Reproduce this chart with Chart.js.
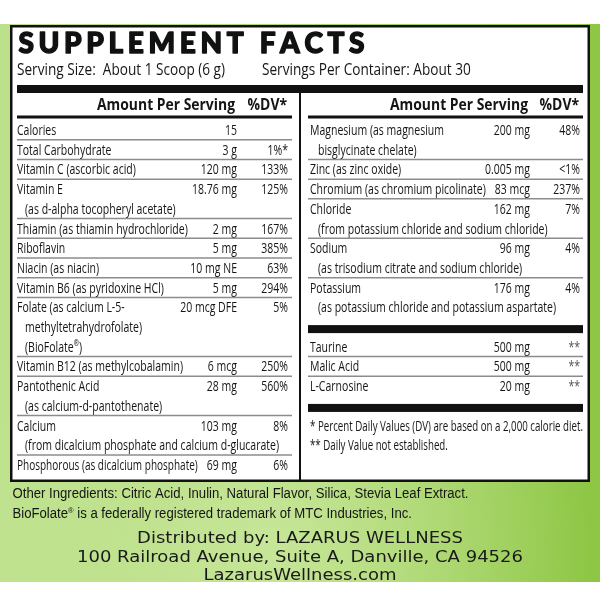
<!DOCTYPE html>
<html>
<head>
<meta charset="utf-8">
<script src="https://cdn.jsdelivr.net/npm/chart.js@4.4.0/dist/chart.umd.min.js"></script>
<style>
  html, body { margin: 0; padding: 0; background: #fff; }
  #wrap { width: 600px; height: 600px; }
</style>
</head>
<body>
<div id="wrap"><canvas id="etiqueta" width="600" height="600"></canvas></div>
<script>
// --- DATOS: COLUMNA IZQUIERDA ---
const leftNames = ["Calories", "Total Carbohydrate", "Vitamin C (ascorbic acid)", "Vitamin E",
  "Thiamin (as thiamin hydrochloride)", "Riboflavin", "Niacin (as niacin)", "Vitamin B6 (as pyridoxine HCl)",
  "Folate (as calcium L-5-", "Vitamin B12 (as methylcobalamin)", "Pantothenic Acid", "Calcium",
  "Phosphorous (as dicalcium phosphate)"];
const leftSubLines = [[], [], [], ["(as d-alpha tocopheryl acetate)"], [], [], [], [],
  ["methyltetrahydrofolate)", "(BioFolate®)"], [], ["(as calcium-d-pantothenate)"],
  ["(from dicalcium phosphate and calcium d-glucarate)"], []];
const leftAmounts = ["15", "3 g", "120 mg", "18.76 mg", "2 mg", "5 mg", "10 mg NE", "5 mg", "20 mcg DFE",
  "6 mcg", "28 mg", "103 mg", "69 mg"];
const leftDV = ["", "1%*", "133%", "125%", "167%", "385%", "63%", "294%", "5%", "250%", "560%", "8%", "6%"];

// --- DATOS: COLUMNA DERECHA ---
const rightNames = ["Magnesium (as magnesium", "Zinc (as zinc oxide)", "Chromium (as chromium picolinate)",
  "Chloride", "Sodium", "Potassium"];
const rightSubLines = [["bisglycinate chelate)"], [], [], ["(from potassium chloride and sodium chloride)"],
  ["(as trisodium citrate and sodium chloride)"], ["(as potassium chloride and potassium aspartate)"]];
const rightAmounts = ["200 mg", "0.005 mg", "83 mcg", "162 mg", "96 mg", "176 mg"];
const rightDV = ["48%", "<1%", "237%", "7%", "4%", "4%"];

const extraNames = ["Taurine", "Malic Acid", "L-Carnosine"];
const extraAmounts = ["500 mg", "500 mg", "20 mg"];
const extraDV = ["**", "**", "**"];

// --- TEXTOS ---
const titleText = "SUPPLEMENT FACTS";
const servingSize = "Serving Size:  About 1 Scoop (6 g)";
const servingsPer = "Servings Per Container: About 30";
const headerAmount = "Amount Per Serving";
const headerDV = "%DV*";
const footnotes = ["* Percent Daily Values (DV) are based on a 2,000 calorie diet.", "** Daily Value not established."];
const otherLines = ["Other Ingredients: Citric Acid, Inulin, Natural Flavor, Silica, Stevia Leaf Extract.",
  "BioFolate® is a federally registered trademark of MTC Industries, Inc."];
const distributorLines = ["Distributed by: LAZARUS WELLNESS", "100 Railroad Avenue, Suite A, Danville, CA 94526",
  "LazarusWellness.com"];

// --- FUENTES ---
const BODY = "'Open Sans', 'Noto Sans', 'DejaVu Sans', sans-serif";
const NARROW = "'Liberation Sans', Arial, sans-serif";
const WIDE = "'DejaVu Sans', 'Liberation Sans', sans-serif";
const BODY_SIZE = 15;

// anchos medidos en la referencia, para ajustar la compresion
const bodyCalib = [
  ["Vitamin C (ascorbic acid)", 121],
  ["Phosphorous (as dicalcium phosphate)", 178],
  ["Chromium (as chromium picolinate)", 177],
  ["(from dicalcium phosphate and calcium d-glucarate)", 258],
  ["(as potassium chloride and potassium aspartate)", 243]
];

// compresion horizontal para imitar una fuente condensada
function fitScale(ctx, font, sample, target) {
  ctx.save();
  ctx.font = font;
  const w = ctx.measureText(sample).width;
  ctx.restore();
  return w > 0 ? target / w : 1;
}

// dibuja texto con escala horizontal y el ® en superindice
function drawText(ctx, s, x, y, size, family, weight, sx, align, color, maxW) {
  ctx.save();
  const font = `${weight} ${size}px ${family}`;
  const small = `${weight} ${Math.round(size * 0.6)}px ${family}`;
  ctx.fillStyle = color || "#151515";
  ctx.textBaseline = "alphabetic";
  const parts = s.split("®");
  let total = 0;
  parts.forEach((p, i) => {
    ctx.font = font;
    total += ctx.measureText(p).width;
    if (i < parts.length - 1) { ctx.font = small; total += ctx.measureText("®").width; }
  });
  if (maxW && total * sx > maxW) sx = maxW / total;
  ctx.translate(x, y);
  ctx.scale(sx, 1);
  let cx = align === "right" ? -total : align === "center" ? -total / 2 : 0;
  ctx.textAlign = "left";
  parts.forEach((p, i) => {
    ctx.font = font;
    ctx.fillText(p, cx, 0);
    cx += ctx.measureText(p).width;
    if (i < parts.length - 1) {
      ctx.font = small;
      ctx.fillText("®", cx, -size * 0.38);
      cx += ctx.measureText("®").width;
    }
  });
  ctx.restore();
  return total * sx;
}

function hLine(ctx, x1, x2, y, w, color) {
  ctx.save();
  ctx.strokeStyle = color;
  ctx.lineWidth = w;
  ctx.beginPath();
  ctx.moveTo(x1, y);
  ctx.lineTo(x2, y);
  ctx.stroke();
  ctx.restore();
}

// --- COLUMNAS (layout) ---
const COL = {
  left: { x1: 17, x2: 292, name: 17, sub: 25, amount: 237, dv: 288 },
  right: { x1: 308, x2: 583, name: 310, sub: 318, amount: 530, dv: 580 }
};

const etiquetaPlugin = {
  id: "etiqueta",
  beforeDraw(chart) {
    const ctx = chart.ctx;
    ctx.save();
    ctx.fillStyle = "#ffffff";
    ctx.fillRect(0, 0, 600, 600);

    // fondo verde
    const g = ctx.createLinearGradient(0, 0, 600, 0);
    g.addColorStop(0, "#bde18c");
    g.addColorStop(0.5, "#a8d56a");
    g.addColorStop(1, "#8dc643");
    ctx.fillStyle = g;
    ctx.fillRect(0, 24, 600, 558);
    const r = ctx.createRadialGradient(270, 545, 10, 270, 545, 320);
    r.addColorStop(0, "rgba(210,236,170,0.7)");
    r.addColorStop(1, "rgba(210,236,170,0)");
    ctx.fillStyle = r;
    ctx.fillRect(0, 24, 600, 558);

    // panel blanco
    ctx.fillStyle = "#ffffff";
    ctx.fillRect(10, 25, 580, 457);
    ctx.strokeStyle = "#111";
    ctx.lineWidth = 2.5;
    ctx.strokeRect(11.25, 26.25, 577.5, 454.5);

    // titulo con espaciado
    ctx.font = `900 28px Lato, 'Open Sans', sans-serif`;
    ctx.fillStyle = "#111";
    ctx.strokeStyle = "#111";
    ctx.lineWidth = 1.4;
    ctx.lineJoin = "round";
    ctx.textBaseline = "alphabetic";
    const chars = titleText.split("");
    const natural = chars.reduce((a, c) => a + ctx.measureText(c).width, 0);
    const gap = (346 - natural) / (chars.length - 1);
    let tx = 18.5;
    chars.forEach(c => {
      ctx.fillText(c, tx, 53);
      ctx.strokeText(c, tx, 53);
      tx += ctx.measureText(c).width + gap;
    });
    ctx.restore();

    const sxServ = fitScale(ctx, `400 17px ${BODY}`, servingSize, 208);
    drawText(ctx, servingSize, 17, 75, 17, BODY, 400, sxServ, "left");
    drawText(ctx, servingsPer, 262, 75, 17, BODY, 400, sxServ, "left");

    // barra gruesa superior y divisor vertical
    ctx.save();
    ctx.fillStyle = "#111";
    ctx.fillRect(17, 85, 566, 8);
    ctx.fillRect(299, 93, 2, 388);
    ctx.restore();

    // encabezados
    const sxHead = fitScale(ctx, `700 16px ${BODY}`, headerAmount, 138);
    [COL.left, COL.right].forEach(c => {
      drawText(ctx, headerAmount, c.amount - 2, 110, 16, BODY, 700, sxHead, "right");
      drawText(ctx, headerDV, c.dv - 1, 110, 16, BODY, 700, sxHead, "right");
      hLine(ctx, c.x1, c.x2, 117, 3, "#111");
    });
  },
  afterDraw(chart) {
    const ctx = chart.ctx;
    const y = chart.scales.y;
    const x = chart.scales.x;
    const bodyFont = `400 ${BODY_SIZE}px ${BODY}`;
    const sxBody = bodyCalib.reduce((a, [s, w]) => a + fitScale(ctx, bodyFont, s, w), 0) / bodyCalib.length;

    function drawColumn(col, names, subs, amounts, dvs, startLine, dvColor) {
      let line = startLine;
      names.forEach((n, i) => {
        const by = y.getPixelForValue(line);
        const ax = x.getPixelForValue(col.amount);
        const aw = drawText(ctx, amounts[i], ax, by, BODY_SIZE, BODY, 400, sxBody, "right");
        const nx = x.getPixelForValue(col.name);
        drawText(ctx, n, nx, by, BODY_SIZE, BODY, 400, sxBody, "left", null, ax - aw - 9 - nx);
        if (dvs[i]) drawText(ctx, dvs[i], x.getPixelForValue(col.dv), by, BODY_SIZE, BODY, 400, sxBody, "right", dvColor);
        (subs[i] || []).forEach(s => {
          line += 1;
          drawText(ctx, s, x.getPixelForValue(col.sub), y.getPixelForValue(line), BODY_SIZE, BODY, 400, sxBody, "left",
            null, x.getPixelForValue(col.x2) - x.getPixelForValue(col.sub));
        });
        if (i < names.length - 1) {
          hLine(ctx, x.getPixelForValue(col.x1), x.getPixelForValue(col.x2), y.getPixelForValue(line + 0.24), 1.5, "#8c8c8c");
        }
        line += 1;
      });
      return line - 1;
    }

    drawColumn(COL.left, leftNames, leftSubLines, leftAmounts, leftDV, 0);
    const lastRight = drawColumn(COL.right, rightNames, rightSubLines, rightAmounts, rightDV, 0);

    ctx.save();
    ctx.fillStyle = "#111";
    const bar1 = y.getPixelForValue(lastRight + 0.85);
    ctx.fillRect(x.getPixelForValue(COL.right.x1), bar1 - 4, COL.right.x2 - COL.right.x1, 8);
    ctx.restore();

    const lastExtra = drawColumn(COL.right, extraNames, [], extraAmounts, extraDV, lastRight + 2, "#555");

    ctx.save();
    ctx.fillStyle = "#111";
    const bar2 = y.getPixelForValue(lastExtra + 0.85);
    ctx.fillRect(x.getPixelForValue(COL.right.x1), bar2 - 4, COL.right.x2 - COL.right.x1, 8);
    ctx.restore();

    const sxFoot = fitScale(ctx, bodyFont, footnotes[0], 273);
    footnotes.forEach((f, i) => {
      drawText(ctx, f, x.getPixelForValue(COL.right.name), y.getPixelForValue(lastExtra + 2 + i), BODY_SIZE, BODY, 400, sxFoot, "left");
    });

    // ingredientes y distribuidor
    const sxNarrow = fitScale(ctx, `400 14px ${NARROW}`, otherLines[0], 456);
    drawText(ctx, otherLines[0], 12.5, 498, 14, NARROW, 400, sxNarrow, "left");
    drawText(ctx, otherLines[1], 12.5, 518, 14, NARROW, 400, sxNarrow, "left");

    const sxWide = fitScale(ctx, `400 16px ${WIDE}`, distributorLines[1], 446);
    [543, 562, 580].forEach((by, i) => {
      drawText(ctx, distributorLines[i], 300, by, 16, WIDE, 400, sxWide, "center", "#1a1a1a");
    });
  }
};

new Chart(document.getElementById("etiqueta"), {
  type: "scatter",
  data: { datasets: [{ data: [], pointRadius: 0 }] },
  options: {
    responsive: false,
    animation: false,
    devicePixelRatio: 1,
    layout: { padding: { top: 135, bottom: 130, left: 0, right: 0 } },
    plugins: { legend: { display: false }, tooltip: { enabled: false } },
    scales: {
      x: { type: "linear", min: 0, max: 600, display: false },
      y: { type: "linear", min: 0, max: 17, reverse: true, display: false }
    }
  },
  plugins: [etiquetaPlugin]
});
</script>
</body>
</html>
